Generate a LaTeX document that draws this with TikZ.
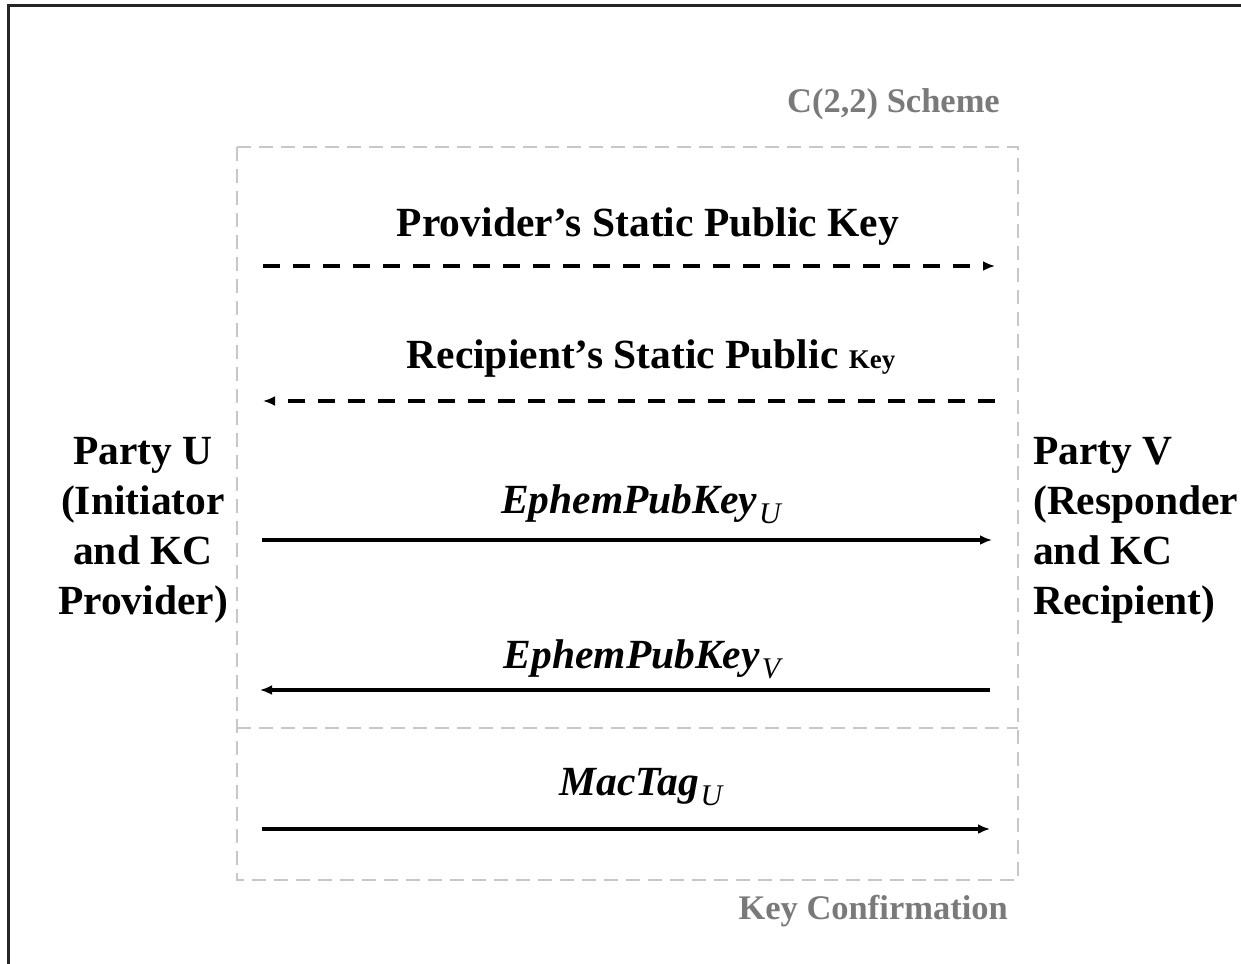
\documentclass[tikz,border=0pt]{standalone}
\usepackage{fontspec}
\setmainfont{Liberation Serif}
\usetikzlibrary{arrows.meta}
\newcommand{\bigtext}{\fontsize{41.5}{50}\selectfont\bfseries}
\newcommand{\tagtext}{\fontsize{34.5}{40}\selectfont\bfseries}
\newcommand{\sub}[1]{\kern2pt\raisebox{-10pt}{\fontsize{30}{30}\selectfont\mdseries\itshape #1}}

\begin{document}
\begin{tikzpicture}[x=1pt, y=-1pt,
	msg/.style = {line width=3.5, -{Latex[length=12,width=10]}},
	sig/.style = {msg, dash pattern=on 17 off 13},
	zone/.style = {draw=black!22, line width=1.5, dash pattern=on 14 off 8},
	label/.style = {font=\bigtext, inner sep=0, anchor=base},
	tagline/.style = {font=\tagtext, text=black!52, inner sep=0, anchor=base east}]
\useasboundingbox (0,0) rectangle (1241,963);
% outer frame
\draw [line width=3, draw=black!85] (8,975) -- (8,6) -- (1255,6);
% scheme and key confirmation areas
\draw [zone] (237,147) rectangle (1018,880);
\draw [zone] (237,728) -- (1018,728);
\node [tagline] (scheme) at (1000,113) {C(2,2) Scheme};
\node [tagline] (kc) at (1008,919) {Key Confirmation};
% parties
\node [font=\bigtext, align=center, inner sep=0] (partyU) at (143,530) {Party U\\(Initiator\\and KC\\Provider)};
\node [font=\bigtext, align=left, inner sep=0, anchor=west] (partyV) at (1033,530) {Party V\\(Responder\\and KC\\Recipient)};
% messages
\node [label] (lab1) at (648,236) {Provider's Static Public Key};
\node [label] (lab2) at (651,368) {Recipient's Static Public {\fontsize{27}{30}\selectfont Key}};
\node [label] (lab3) at (641,513) {\itshape EphemPubKey\sub{U}};
\node [label] (lab4) at (642,668) {\itshape EphemPubKey\sub{V}};
\node [label] (lab5) at (641,795) {\itshape MacTag\sub{U}};
\foreach \n/\y/\a/\b/\s in {1/266/263/995/sig, 2/401/995/263/sig, 3/540/262/992/msg, 4/690/990/260/msg, 5/829/262/990/msg}{
	\coordinate (from\n) at (\a,\y);
	\coordinate (to\n) at (\b,\y);
	\draw [\s] (from\n) -- (to\n);
}
\end{tikzpicture}
\end{document}
